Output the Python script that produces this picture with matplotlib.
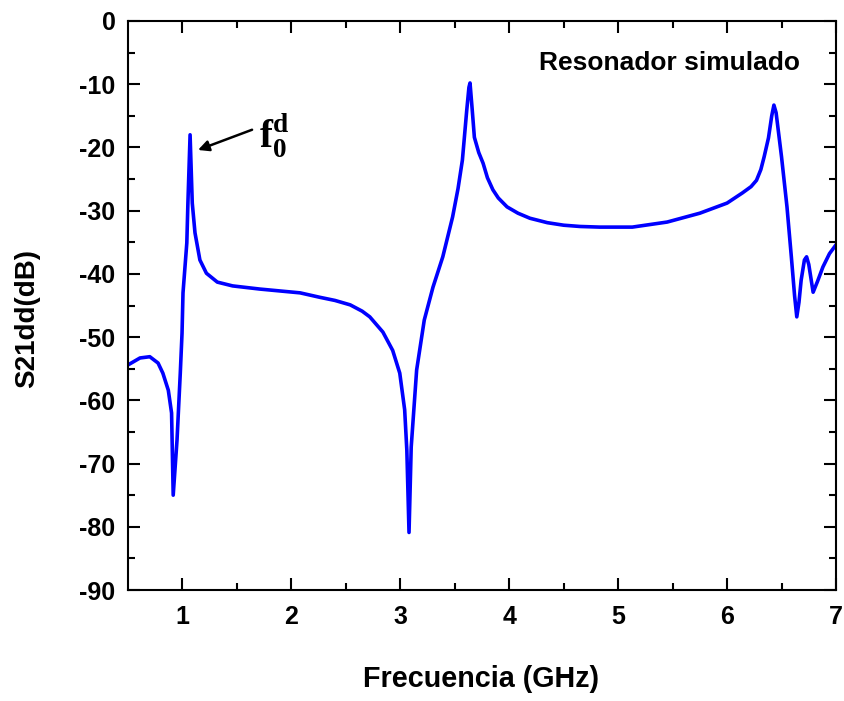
import matplotlib
matplotlib.use("Agg")
import matplotlib.pyplot as plt

plt.rcParams["axes.unicode_minus"] = False
plt.rcParams["mathtext.fontset"] = "custom"
plt.rcParams["mathtext.rm"] = "Liberation Serif"
plt.rcParams["mathtext.bf"] = "Liberation Serif:bold"

freq_ghz = [0.5, 0.61, 0.70, 0.776, 0.82, 0.87, 0.90, 0.915, 0.95, 0.98, 0.996,
            1.005, 1.04, 1.05, 1.07, 1.09, 1.115, 1.16, 1.22, 1.32, 1.46, 1.71, 2.08,
            2.26, 2.4, 2.54, 2.65, 2.72, 2.84, 2.93, 2.995, 3.04, 3.06, 3.08,
            3.10, 3.15, 3.22, 3.30, 3.39, 3.48, 3.53, 3.57, 3.61, 3.63, 3.64, 3.66,
            3.68, 3.72, 3.76, 3.80, 3.85, 3.90, 3.98, 4.08, 4.19, 4.35, 4.5, 4.65,
            4.83, 5.13, 5.45, 5.75, 6.0, 6.14, 6.22, 6.27, 6.31, 6.34, 6.38, 6.41,
            6.43, 6.45, 6.50, 6.55, 6.59, 6.62, 6.64, 6.66, 6.68, 6.71, 6.73, 6.75,
            6.79, 6.83, 6.88, 6.94, 7.0]
s21_db = [-54.4, -53.3, -53.1, -54.1, -55.7, -58.4, -62.0, -75.0, -66.3, -55.7, -49.4,
          -43.0, -35.1, -28.8, -18.0, -28.8, -33.5, -37.8, -39.9, -41.3, -41.9, -42.4, -43.0,
          -43.7, -44.2, -44.9, -45.9, -46.8, -49.2, -52.1, -55.7, -61.5, -67.9, -80.9,
          -67.4, -55.2, -47.3, -42.1, -37.3, -31.0, -26.5, -22.0, -14.1, -10.5, -9.8, -14.0,
          -18.4, -20.8, -22.5, -24.8, -26.7, -28.0, -29.4, -30.4, -31.2, -31.9, -32.3, -32.5,
          -32.6, -32.6, -31.8, -30.4, -28.8, -27.2, -26.2, -25.2, -23.5, -21.5, -18.5, -15.0,
          -13.3, -14.5, -21.5, -29.4, -37.3, -43.5, -46.8, -44.5, -41.0, -37.8, -37.3, -38.5,
          -42.9, -41.2, -38.9, -36.8, -35.4]

x_ticks = [1, 2, 3, 4, 5, 6, 7]
y_ticks = [0, -10, -20, -30, -40, -50, -60, -70, -80, -90]

W, H = 845, 701
fig = plt.figure(figsize=(W / 100, H / 100), dpi=100)
ax = fig.add_axes([128 / W, 1 - 590 / H, (836 - 128) / W, (590 - 21) / H])
ax.plot(freq_ghz, s21_db, color="#0000ff", lw=2.6, solid_joinstyle="round")
ax.set_xlim(0.5, 7)
ax.set_ylim(-90, 0)

fam = ["Liberation Sans", "DejaVu Sans"]
ax.set_xticks(x_ticks)
ax.set_yticks(y_ticks)
ax.set_xticks([1.5, 2.5, 3.5, 4.5, 5.5, 6.5], minor=True)
ax.set_yticks([-5, -15, -25, -35, -45, -55, -65, -75, -85], minor=True)
ax.tick_params(which="both", direction="in", top=True, right=True, width=1.5)
ax.tick_params(which="major", length=8.5, labelsize=18)
ax.tick_params(which="minor", length=5)
ax.tick_params(axis="y", which="major", pad=9)
ax.tick_params(axis="x", which="major", pad=11)
for lab in ax.get_xticklabels() + ax.get_yticklabels():
    lab.set_fontfamily(fam)
    lab.set_fontweight("bold")
for sp in ax.spines.values():
    sp.set_linewidth(1.5)

fig.text(481 / W, 1 - 679 / H, "Frecuencia (GHz)", fontsize=20.7, fontweight="bold",
         family=fam, ha="center", va="center")
fig.text(27 / W, 1 - 318 / H, "S21dd(dB)", fontsize=20, fontweight="bold",
         family=fam, ha="center", va="center", rotation=90)

fig.text(800 / W, 1 - 63 / H, "Resonador simulado", ha="right", va="center",
         fontsize=19, fontweight="bold", family=fam)

ax.annotate("", xy=(1.143, -20.4), xytext=(1.639, -17.2),
            arrowprops=dict(arrowstyle="-|>", color="black", lw=1.8, mutation_scale=16,
                            shrinkA=0, shrinkB=0))
ax.text(1.70, -18.2, r"$\mathbf{f}_{\mathbf{0}}^{\mathbf{d}}$", fontsize=28,
        ha="left", va="center")

fig.savefig("out.png", dpi=100)
